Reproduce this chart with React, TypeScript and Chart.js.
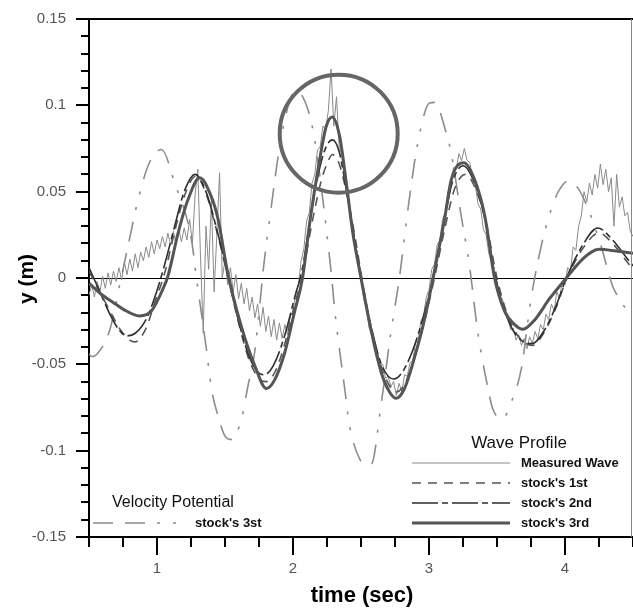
import React, { useEffect, useRef } from "react";
import { Chart, registerables } from "chart.js";

Chart.register(...registerables);

// ---------- data ----------
const xTickValues = [1, 2, 3, 4];
const xTickLabels = ["1", "2", "3", "4"];
const yTickValues = [-0.15, -0.1, -0.05, 0, 0.05, 0.1, 0.15];
const yTickLabels = ["-0.15", "-0.1", "-0.05", "0", "0.05", "0.1", "0.15"];

// measured wave, sampled every 0.02 s from t = 0.5
const measuredStart = 0.5;
const measuredStep = 0.02;
const measuredValues = [
  -0.010, -0.004, -0.011, -0.002, -0.008, 0.001, -0.006, 0.003, -0.004, 0.004,
  -0.002, 0.006, -0.001, 0.009, 0.002, 0.011, 0.004, 0.014, 0.006, 0.015,
  0.010, 0.018, 0.012, 0.021, 0.014, 0.022, 0.017, 0.024, 0.018, 0.026,
  0.019, 0.027, 0.020, 0.028, 0.021, 0.029, 0.022, 0.034, 0.020, 0.048,
  0.063, 0.012, -0.032, 0.030, 0.005, 0.045, -0.008, 0.025, 0.061, 0.000,
  0.010, -0.004, 0.006, -0.008, 0.002, -0.012, -0.003, -0.015, -0.006, -0.019,
  -0.011, -0.023, -0.015, -0.028, -0.017, -0.031, -0.022, -0.034, -0.024, -0.036,
  -0.026, -0.035, -0.027, -0.033, -0.022, -0.020, -0.008, -0.004, 0.010, 0.017,
  0.033, 0.038, 0.055, 0.060, 0.074, 0.076, 0.088, 0.086, 0.097, 0.121,
  0.088, 0.105, 0.075, 0.072, 0.055, 0.050, 0.035, 0.031, 0.015, 0.010,
  0.003, -0.012, -0.017, -0.029, -0.032, -0.042, -0.043, -0.051, -0.050, -0.058,
  -0.057, -0.063, -0.060, -0.068, -0.061, -0.066, -0.056, -0.057, -0.049, -0.048,
  -0.038, -0.036, -0.025, -0.022, -0.011, -0.007, 0.005, 0.008, 0.019, 0.022,
  0.034, 0.038, 0.050, 0.053, 0.064, 0.063, 0.072, 0.068, 0.075, 0.068,
  0.067, 0.057, 0.054, 0.043, 0.040, 0.028, 0.025, 0.014, 0.010, 0.000,
  -0.002, -0.011, -0.012, -0.021, -0.022, -0.030, -0.029, -0.036, -0.033, -0.039,
  -0.035, -0.041, -0.034, -0.038, -0.031, -0.035, -0.027, -0.030, -0.021, -0.024,
  -0.015, -0.019, -0.008, -0.012, -0.002, -0.004, 0.006, 0.004, 0.018, 0.016,
  0.030, 0.036, 0.050, 0.044, 0.055, 0.048, 0.060, 0.052, 0.066, 0.054,
  0.063, 0.050, 0.058, 0.030, 0.060, 0.041, 0.047, 0.036, 0.038, 0.027, 0.024,
];
const measuredTimes = measuredValues.map((_, i) => +(measuredStart + i * measuredStep).toFixed(2));

// stock's 1st
const stock1T = [0.50, 0.58, 0.66, 0.74, 0.836, 0.92, 0.98, 1.057, 1.13, 1.204, 1.285, 1.36, 1.44, 1.52, 1.60, 1.68, 1.76, 1.80, 1.87, 1.94, 2.01, 2.07, 2.14, 2.21, 2.26, 2.29, 2.34, 2.40, 2.46, 2.51, 2.58, 2.66, 2.76, 2.83, 2.90, 2.97, 3.04, 3.12, 3.19, 3.27, 3.34, 3.42, 3.50, 3.58, 3.66, 3.76, 3.85, 3.935, 4.01, 4.13, 4.25, 4.35, 4.45, 4.50];
const stock1Y = [0.004, -0.008, -0.020, -0.031, -0.037, -0.029, -0.015, 0.003, 0.027, 0.048, 0.059, 0.049, 0.027, 0.001, -0.026, -0.048, -0.059, -0.060, -0.054, -0.038, -0.016, 0.002, 0.032, 0.057, 0.068, 0.0715, 0.066, 0.047, 0.022, -0.002, -0.031, -0.054, -0.066, -0.060, -0.044, -0.024, 0.000, 0.030, 0.052, 0.060, 0.052, 0.032, 0.000, -0.022, -0.034, -0.039, -0.031, -0.017, -0.001, 0.017, 0.026, 0.020, 0.010, 0.005];

// stock's 2nd
const stock2T = [0.50, 0.58, 0.66, 0.72, 0.775, 0.84, 0.92, 0.98, 1.05, 1.13, 1.20, 1.28, 1.36, 1.44, 1.52, 1.60, 1.68, 1.75, 1.79, 1.86, 1.94, 2.01, 2.07, 2.13, 2.20, 2.25, 2.29, 2.34, 2.39, 2.45, 2.51, 2.58, 2.65, 2.74, 2.80, 2.88, 2.96, 3.03, 3.11, 3.17, 3.25, 3.33, 3.41, 3.49, 3.57, 3.65, 3.76, 3.85, 3.935, 4.01, 4.13, 4.24, 4.35, 4.45, 4.50];
const stock2Y = [0.006, -0.008, -0.022, -0.030, -0.0335, -0.032, -0.024, -0.012, 0.006, 0.030, 0.050, 0.060, 0.050, 0.028, 0.002, -0.025, -0.046, -0.055, -0.056, -0.050, -0.033, -0.012, 0.006, 0.036, 0.065, 0.077, 0.080, 0.073, 0.052, 0.024, -0.004, -0.030, -0.050, -0.0585, -0.055, -0.042, -0.022, 0.000, 0.032, 0.055, 0.065, 0.056, 0.035, 0.000, -0.022, -0.034, -0.038, -0.030, -0.016, 0.000, 0.019, 0.029, 0.022, 0.012, 0.007];

// stock's 3rd
const stock3T = [0.50, 0.60, 0.675, 0.75, 0.873, 0.96, 1.04, 1.08, 1.155, 1.226, 1.314, 1.40, 1.449, 1.52, 1.62, 1.72, 1.804, 1.865, 1.94, 2.01, 2.07, 2.13, 2.196, 2.245, 2.289, 2.343, 2.392, 2.44, 2.50, 2.576, 2.65, 2.71, 2.759, 2.82, 2.89, 2.967, 3.03, 3.114, 3.164, 3.256, 3.335, 3.41, 3.482, 3.555, 3.63, 3.69, 3.78, 3.886, 4.01, 4.13, 4.25, 4.375, 4.50];
const stock3Y = [-0.003, -0.010, -0.014, -0.018, -0.022, -0.019, -0.007, 0.001, 0.026, 0.045, 0.058, 0.047, 0.034, 0.003, -0.028, -0.051, -0.064, -0.059, -0.043, -0.020, 0.000, 0.036, 0.0685, 0.088, 0.0933, 0.082, 0.055, 0.026, 0.000, -0.031, -0.055, -0.066, -0.0697, -0.064, -0.047, -0.024, 0.000, 0.034, 0.057, 0.0667, 0.057, 0.036, 0.000, -0.019, -0.027, -0.0297, -0.024, -0.012, 0.000, 0.011, 0.0166, 0.0156, 0.0143];

// velocity potential, stock's 3st
const velocityT = [0.50, 0.52, 0.56, 0.653, 0.736, 0.787, 0.86, 0.94, 1.033, 1.13, 1.253, 1.29, 1.363, 1.40, 1.449, 1.498, 1.547, 1.62, 1.669, 1.718, 1.79, 1.83, 1.86, 1.89, 1.94, 2.00, 2.03, 2.11, 2.16, 2.22, 2.27, 2.285, 2.306, 2.38, 2.416, 2.49, 2.54, 2.576, 2.65, 2.72, 2.784, 2.845, 2.918, 3.004, 3.04, 3.127, 3.163, 3.237, 3.298, 3.359, 3.42, 3.47, 3.543, 3.604, 3.678, 3.75, 3.825, 3.898, 3.947, 4.02, 4.094, 4.18, 4.265, 4.35, 4.41, 4.486, 4.50];
const velocityY = [-0.044, -0.0455, -0.044, -0.030, 0.000, 0.0185, 0.045, 0.066, 0.0744, 0.055, 0.0224, 0.000, -0.041, -0.064, -0.080, -0.0913, -0.0936, -0.082, -0.0624, -0.043, 0.0108, 0.035, 0.053, 0.070, 0.092, 0.107, 0.108, 0.0975, 0.080, 0.045, 0.011, 0.000, -0.018, -0.064, -0.0855, -0.1048, -0.108, -0.1077, -0.072, -0.0316, 0.001, 0.0397, 0.0783, 0.1014, 0.1017, 0.084, 0.0725, 0.0358, 0.0069, -0.0316, -0.0586, -0.076, -0.0813, -0.072, -0.0528, -0.0123, 0.0185, 0.0397, 0.0494, 0.056, 0.0522, 0.038, 0.0185, -0.0046, -0.0133, -0.022, -0.023];

// highlighted region (circle annotation), in data units
const circleCenterT = 2.336;
const circleCenterY = 0.0836;

// ---------- styles ----------
const FONT = "'Liberation Sans', Arial, sans-serif";
const measuredStyle = { color: "#8a8a8a", width: 1, dash: [] as number[] };
const stock1Style = { color: "#555555", width: 1.6, dash: [9, 7] };
const stock2Style = { color: "#2e2e2e", width: 1.6, dash: [26, 4, 6, 4] };
const stock3Style = { color: "#555555", width: 3, dash: [] as number[] };
const velocityStyle = { color: "#8c8c8c", width: 1.6, dash: [20, 12, 20, 12, 3, 13, 3, 13] };

const pts = (ts: number[], ys: number[]) => ts.map((t, i) => ({ x: t, y: ys[i] }));

const decorPlugin = {
  id: "decor",
  beforeDatasetsDraw(chart: any) {
    const { ctx, chartArea: a, scales } = chart;
    const y0 = Math.round(scales.y.getPixelForValue(0)) + 0.5;
    ctx.save();
    ctx.strokeStyle = "#000";
    ctx.lineWidth = 1;
    ctx.beginPath();
    ctx.moveTo(a.left, y0);
    ctx.lineTo(a.right, y0);
    ctx.stroke();
    ctx.restore();
  },
  afterDraw(chart: any) {
    const { ctx, chartArea: a, scales } = chart;
    const xs = scales.x;
    const ys = scales.y;
    ctx.save();

    // top border and right border
    ctx.strokeStyle = "#000";
    ctx.lineWidth = 2;
    ctx.beginPath();
    ctx.moveTo(a.left, a.top);
    ctx.lineTo(a.right, a.top);
    ctx.stroke();
    ctx.strokeStyle = "#888";
    ctx.lineWidth = 1;
    ctx.beginPath();
    ctx.moveTo(a.right - 1.5, a.top);
    ctx.lineTo(a.right - 1.5, a.bottom);
    ctx.stroke();

    // minor ticks
    ctx.strokeStyle = "#000";
    ctx.lineWidth = 2;
    for (let i = -15; i <= 15; i++) {
      if (i % 5 === 0) continue;
      const py = Math.round(ys.getPixelForValue(i / 100));
      ctx.beginPath();
      ctx.moveTo(a.left - 8, py);
      ctx.lineTo(a.left, py);
      ctx.stroke();
    }
    for (let i = 2; i <= 18; i++) {
      if (i % 4 === 0) continue;
      const px = Math.round(xs.getPixelForValue(i / 4));
      ctx.beginPath();
      ctx.moveTo(px, a.bottom);
      ctx.lineTo(px, a.bottom + 10);
      ctx.stroke();
    }

    // circle annotation
    ctx.strokeStyle = "#666";
    ctx.lineWidth = 4;
    ctx.beginPath();
    ctx.arc(xs.getPixelForValue(circleCenterT), ys.getPixelForValue(circleCenterY), 59, 0, Math.PI * 2);
    ctx.stroke();

    // axis titles
    ctx.fillStyle = "#000";
    ctx.font = `bold 22px ${FONT}`;
    ctx.textAlign = "center";
    ctx.textBaseline = "middle";
    ctx.fillText("time (sec)", 362, 596);
    ctx.save();
    ctx.translate(27, 279);
    ctx.rotate(-Math.PI / 2);
    ctx.font = `bold 21px ${FONT}`;
    ctx.fillText("y (m)", 0, 0);
    ctx.restore();

    // legend helper
    const legendLine = (x1: number, x2: number, y: number, s: any) => {
      ctx.save();
      ctx.strokeStyle = s.color;
      ctx.lineWidth = s.width;
      ctx.setLineDash(s.dash);
      ctx.beginPath();
      ctx.moveTo(x1, y);
      ctx.lineTo(x2, y);
      ctx.stroke();
      ctx.restore();
    };

    // Wave Profile legend
    ctx.fillStyle = "#111";
    ctx.font = `17px ${FONT}`;
    ctx.textAlign = "center";
    ctx.fillText("Wave Profile", 519, 443);
    const entries: [string, any][] = [
      ["Measured Wave", measuredStyle],
      ["stock's 1st", stock1Style],
      ["stock's 2nd", stock2Style],
      ["stock's 3rd", stock3Style],
    ];
    ctx.font = `bold 13px ${FONT}`;
    ctx.textAlign = "left";
    entries.forEach(([label, s], i) => {
      const yy = 463 + i * 20;
      legendLine(412, 510, yy, s);
      ctx.fillStyle = "#111";
      ctx.fillText(label, 521, yy);
    });

    // Velocity Potential legend
    ctx.font = `16px ${FONT}`;
    ctx.fillStyle = "#111";
    ctx.fillText("Velocity Potential", 112, 503);
    legendLine(93, 180, 523, velocityStyle);
    ctx.font = `bold 13px ${FONT}`;
    ctx.fillText("stock's 3st", 195, 523);

    ctx.restore();
  },
};

export default function App() {
  const ref = useRef<HTMLCanvasElement | null>(null);

  useEffect(() => {
    document.body.style.margin = "0";
    const canvas = ref.current;
    if (!canvas) return;
    const mk = (label: string, data: any[], s: any, order: number, tension: boolean) => ({
      label,
      data,
      borderColor: s.color,
      borderWidth: s.width,
      borderDash: s.dash,
      pointRadius: 0,
      fill: false,
      order,
      cubicInterpolationMode: tension ? "monotone" : "default",
      tension: 0,
      borderJoinStyle: "round",
    });
    const chart = new Chart(canvas, {
      type: "line",
      data: {
        datasets: [
          mk("stock's 3st (Velocity Potential)", pts(velocityT, velocityY), velocityStyle, 5, true),
          mk("Measured Wave", pts(measuredTimes, measuredValues), measuredStyle, 4, false),
          mk("stock's 1st", pts(stock1T, stock1Y), stock1Style, 3, true),
          mk("stock's 2nd", pts(stock2T, stock2Y), stock2Style, 2, true),
          mk("stock's 3rd", pts(stock3T, stock3Y), stock3Style, 1, true),
        ] as any,
      },
      options: {
        animation: false,
        responsive: false,
        devicePixelRatio: 1,
        parsing: false as any,
        normalized: true,
        layout: { padding: { top: 18, right: 0, left: 0, bottom: 0 } },
        plugins: { legend: { display: false }, tooltip: { enabled: false } },
        scales: {
          x: {
            type: "linear",
            min: 0.5,
            max: 4.5,
            afterBuildTicks: (scale: any) => {
              scale.ticks = xTickValues.map((v) => ({ value: v }));
            },
            afterFit: (scale: any) => {
              scale.height = 71;
            },
            ticks: {
              callback: (_v: any, i: number) => xTickLabels[i],
              font: { family: FONT, size: 15 },
              color: "#555",
              padding: 5,
              maxRotation: 0,
            },
            grid: {
              drawOnChartArea: false,
              drawTicks: true,
              tickLength: 18,
              tickWidth: 2,
              tickColor: "#000",
              color: "#000",
              lineWidth: 2,
            },
            border: { display: true, color: "#000", width: 2 },
          },
          y: {
            type: "linear",
            min: -0.15,
            max: 0.15,
            afterBuildTicks: (scale: any) => {
              scale.ticks = yTickValues.map((v) => ({ value: v }));
            },
            afterFit: (scale: any) => {
              scale.width = 89;
            },
            ticks: {
              callback: (_v: any, i: number) => yTickLabels[i],
              font: { family: FONT, size: 15 },
              color: "#555",
              padding: 10,
            },
            grid: {
              drawOnChartArea: false,
              drawTicks: true,
              tickLength: 13,
              tickWidth: 2,
              tickColor: "#000",
              color: "#000",
              lineWidth: 2,
            },
            border: { display: true, color: "#000", width: 2 },
          },
        },
      } as any,
      plugins: [decorPlugin],
    });
    return () => chart.destroy();
  }, []);

  return (
    <div style={{ width: 633, height: 608, background: "#fff" }}>
      <canvas ref={ref} width={633} height={608} style={{ display: "block" }} />
    </div>
  );
}
